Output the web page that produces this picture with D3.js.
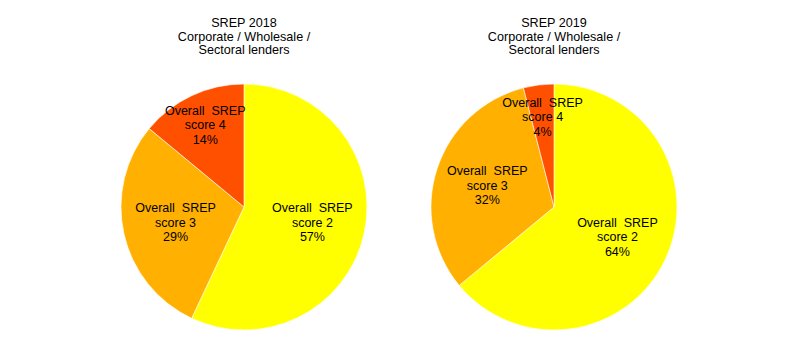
<!DOCTYPE html>
<html>
<head>
<meta charset="utf-8">
<script src="https://cdn.jsdelivr.net/npm/d3@7"></script>
<style>
  body { margin: 0; background: #fff; }
  svg { display: block; font-family: "Liberation Sans", Arial, sans-serif; }
  .lbl { white-space: pre; }
</style>
</head>
<body>
<svg id="chart" width="797" height="353"></svg>
<script>
// chart data
const categories = ["Overall  SREP score 2", "Overall  SREP score 3", "Overall  SREP score 4"];
const values2018 = [57, 29, 14];
const values2019 = [64, 32, 4];
const titles = [
  ["SREP 2018", "Corporate / Wholesale /", "Sectoral lenders"],
  ["SREP 2019", "Corporate / Wholesale /", "Sectoral lenders"]
];
const colors = ["#FFFF00", "#FFB000", "#FF5000"];

const svg = d3.select("#chart");
const R = 123;
const panels = [
  { cx: 244, values: values2018, title: titles[0] },
  { cx: 554, values: values2019, title: titles[1] }
];

const pie = d3.pie().sort(null).value(d => d);
const arc = d3.arc().innerRadius(0).outerRadius(R);

panels.forEach(p => {
  const g = svg.append("g").attr("transform", `translate(${p.cx},207)`);

  // title
  svg.append("text")
    .attr("x", p.cx).attr("y", 27)
    .attr("text-anchor", "middle")
    .attr("font-size", "12.6px")
    .attr("fill", "#000")
    .selectAll("tspan").data(p.title)
    .join("tspan")
    .attr("x", p.cx)
    .attr("dy", (d, i) => i === 0 ? 0 : 13.5)
    .text(d => d);

  const arcs = pie(p.values);

  g.selectAll("path.slice").data(arcs)
    .join("path")
    .attr("class", "slice")
    .attr("d", arc)
    .attr("fill", (d, i) => colors[i])
    .attr("stroke", "#fff")
    .attr("stroke-width", 0.6);

  // labels — small slices get pushed further out
  const labels = g.selectAll("text.lbl").data(arcs)
    .join("text")
    .attr("class", "lbl")
    .attr("text-anchor", "middle")
    .attr("font-size", "12.5px")
    .attr("fill", "#000")
    .attr("transform", d => {
      const a = (d.startAngle + d.endAngle) / 2;
      const share = (d.endAngle - d.startAngle) / (2 * Math.PI);
      const r = share < 0.2 ? R * 0.74 : R * 0.57;
      return `translate(${r * Math.sin(a)},${-r * Math.cos(a)})`;
    });

  labels.each(function(d, i) {
    const name = categories[i];
    const lines = [name.replace(/ score.*/, ""), name.replace(/^.*SREP /, ""), d.data + "%"];
    d3.select(this).selectAll("tspan").data(lines)
      .join("tspan")
      .attr("x", 0)
      .attr("y", (t, j) => -10 + j * 14.5)
      .text(t => t);
  });
});
</script>
</body>
</html>
